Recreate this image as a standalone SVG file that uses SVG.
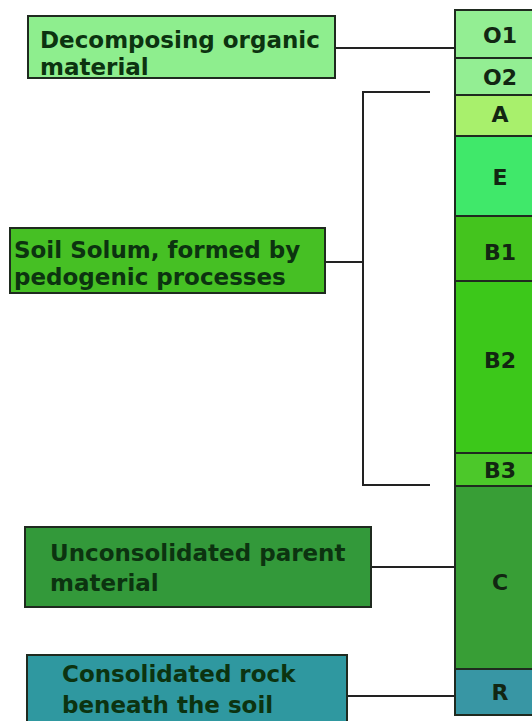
<svg xmlns="http://www.w3.org/2000/svg" width="532" height="721" viewBox="0 0 532 721">
<style>
.box{stroke:#1f2a1f;stroke-width:2}
.lbl{font-family:"DejaVu Sans",Verdana,sans-serif;font-weight:bold;font-size:23px;fill:#0c3310}
.hz{font-family:"DejaVu Sans",Verdana,sans-serif;font-weight:bold;font-size:22px;fill:#122612;text-anchor:middle}
.layer{stroke:#1f2a1f;stroke-width:2}
.conn{stroke:#222;stroke-width:2;fill:none}
</style>
<rect width="532" height="721" fill="#ffffff"/>
<g id="column">
<rect class="layer" x="455" y="10" width="110" height="48" fill="#93ee93"/>
<rect class="layer" x="455" y="58" width="110" height="37" fill="#93ee93"/>
<rect class="layer" x="455" y="95" width="110" height="41" fill="#a8f06c"/>
<rect class="layer" x="455" y="136" width="110" height="80" fill="#40e86a"/>
<rect class="layer" x="455" y="216" width="110" height="65" fill="#44c41e"/>
<rect class="layer" x="455" y="281" width="110" height="172" fill="#3cc81a"/>
<rect class="layer" x="455" y="453" width="110" height="33" fill="#4cc82a"/>
<rect class="layer" x="455" y="486" width="110" height="183" fill="#389e36"/>
<rect class="layer" x="455" y="669" width="110" height="46" fill="#3896a4"/>
<text class="hz" x="500" y="43">O1</text>
<text class="hz" x="500" y="85">O2</text>
<text class="hz" x="500" y="122">A</text>
<text class="hz" x="500" y="185">E</text>
<text class="hz" x="500" y="260">B1</text>
<text class="hz" x="500" y="368">B2</text>
<text class="hz" x="500" y="478">B3</text>
<text class="hz" x="500" y="590">C</text>
<text class="hz" x="500" y="700">R</text>
</g>
<g id="connectors">
<line class="conn" x1="335" y1="48" x2="455" y2="48"/>
<polyline class="conn" points="430,92 363,92 363,485 430,485"/>
<line class="conn" x1="325" y1="262" x2="363" y2="262"/>
<line class="conn" x1="371" y1="567" x2="455" y2="567"/>
<line class="conn" x1="347" y1="696" x2="455" y2="696"/>
</g>
<g id="organic">
<rect class="box" x="28" y="16" width="307" height="62" fill="#8eee8e"/>
<text class="lbl" x="40" y="48">Decomposing organic</text>
<text class="lbl" x="40" y="75">material</text>
</g>
<g id="solum">
<rect class="box" x="10" y="228" width="315" height="65" fill="#46c024"/>
<text class="lbl" x="14" y="258">Soil Solum, formed by</text>
<text class="lbl" x="14" y="285">pedogenic processes</text>
</g>
<g id="parent">
<rect class="box" x="25" y="527" width="346" height="80" fill="#33993a"/>
<text class="lbl" x="50" y="561">Unconsolidated parent</text>
<text class="lbl" x="50" y="591">material</text>
</g>
<g id="rock">
<rect class="box" x="27" y="655" width="320" height="80" fill="#2f98a0"/>
<text class="lbl" x="62" y="682" fill="#0b2a30">Consolidated rock</text>
<text class="lbl" x="62" y="713" fill="#0b2a30">beneath the soil</text>
</g>
</svg>
